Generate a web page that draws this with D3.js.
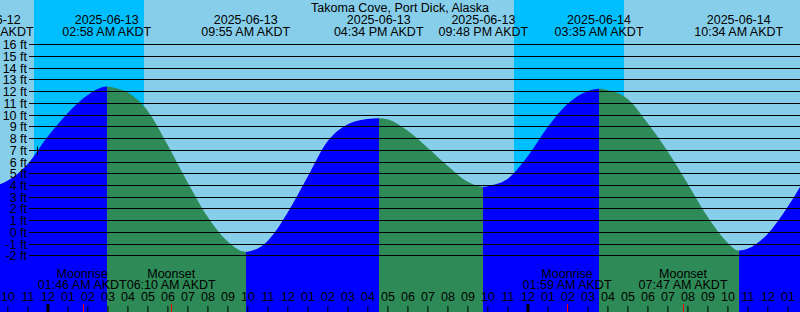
<!DOCTYPE html>
<html><head><meta charset="utf-8">
<script src="https://cdn.jsdelivr.net/npm/d3@7"></script>
<style>
body{margin:0;overflow:hidden;background:#fff}
svg{display:block}
text{font-family:"Liberation Sans",Arial,Helvetica,sans-serif;font-size:12.5px;fill:#000}
</style>
</head><body>
<svg id="c" width="800" height="312"></svg>
<script>
// ---------- data ----------
const title = "Takoma Cove, Port Dick, Alaska";
const tzLabel = "AKDT";
// hourly tide heights (ft), starting 2025-06-12 22:00 AKDT
const sampleStart = "2025-06-12T22:00";
const sampleHeights = [
  4.35, 5.75, 8.1, 10.1, 11.65, 12.39, 11.9, 10.35, 7.45, 4.25,
  1.3, -0.8, -1.69, -0.8, 1.6, 4.65, 7.7, 9.15, 9.62, 9.6,
  8.65, 7.2, 5.65, 4.3, 3.9, 4.5, 6.4, 8.9, 10.9, 12.0,
  12.1, 11.35, 9.3, 6.9, 4.15, 1.3, -0.9, -1.45, -0.2, 2.1, 4.9
];
const extremeTimes = ["2025-06-12T21:04","2025-06-13T02:58","2025-06-13T09:55","2025-06-13T16:34","2025-06-13T21:48","2025-06-14T03:35","2025-06-14T10:34"];
const extremeHeights = [3.8, 12.4, -1.7, 9.7, 3.85, 12.2, -1.6];
const extremeTypes = ["low","high","low","high","low","high","low"];
const sunsetTimes = ["2025-06-12T23:20","2025-06-13T23:20"];
const sunriseTimes = ["2025-06-13T04:50","2025-06-14T04:50"];
const moonEventNames = ["Moonrise","Moonset","Moonrise","Moonset"];
const moonEventTimes = ["2025-06-13T01:46","2025-06-13T06:10","2025-06-14T01:59","2025-06-14T07:47"];
const nowTime = "2025-06-12T23:30";
const levelTicks = [-2,-1,0,1,2,3,4,5,6,7,8,9,10,11,12,13,14,15,16];
const viewStart = "2025-06-12T21:37:48", viewEnd = "2025-06-14T13:37:48";

// ---------- setup ----------
const W = 800, H = 312;
const parse = s => new Date(s + (s.length === 16 ? ":00Z" : "Z"));
const colors = {day:"#87CEEB", night:"#00BFFF", rise:"#0000FF", fall:"#2E8B57"};

const x = d3.scaleUtc().domain([parse(viewStart), parse(viewEnd)]).range([0, W]);
const y = d3.scaleLinear().domain([-2, 16]).range([255.3, 44.3]);

const t0 = parse(sampleStart);
const pts = sampleHeights.map((h,i) => ({t: d3.utcHour.offset(t0, i), h}));
const ext = extremeTimes.map((s,i) => ({t: parse(s), h: extremeHeights[i], type: extremeTypes[i]}));
const data = pts.concat(ext.map(e => ({t:e.t, h:e.h}))).sort((a,b) => a.t - b.t);

const svg = d3.select("#c");
const defs = svg.append("defs");

// sky
svg.append("rect").attr("x",0).attr("y",0).attr("width",W).attr("height",H).attr("fill",colors.day);
sunsetTimes.forEach((s,i) => {
  const a = Math.round(x(parse(s))), b = Math.round(x(parse(sunriseTimes[i])));
  svg.append("rect").attr("x",a).attr("y",0).attr("width",b-a).attr("height",H).attr("fill",colors.night);
});

// tide area, coloured per segment
const area = d3.area().x(d => x(d.t)).y0(H).y1(d => y(d.h)).curve(d3.curveMonotoneX);
const areaPath = area(data);
const lastT = data[data.length-1].t;
ext.forEach((e,i) => {
  const a = Math.round(x(e.t));
  const b = i < ext.length-1 ? Math.round(x(ext[i+1].t)) : Math.ceil(x(lastT)) + 10;
  const id = "seg" + i;
  defs.append("clipPath").attr("id", id).append("rect")
    .attr("x", a).attr("y", 0).attr("width", b - a).attr("height", H);
  svg.append("path").attr("d", areaPath).attr("clip-path", `url(#${id})`)
    .attr("fill", e.type === "low" ? colors.rise : colors.fall);
});

// level lines and labels
const lv = svg.append("g");
levelTicks.forEach(v => {
  const yy = Math.round(y(v)) + 0.5;
  lv.append("line").attr("x1",29).attr("x2",W).attr("y1",yy).attr("y2",yy)
    .attr("stroke","#000").attr("stroke-width",1);
  lv.append("text").attr("x",27).attr("y",yy+4).attr("text-anchor","end").text(v + " ft");
});

// now marker on curve
{
  const nt = parse(nowTime);
  const i = d3.bisector(d => d.t).right(data, nt);
  const p0 = data[i-1], p1 = data[i];
  const f = (nt - p0.t) / (p1.t - p0.t);
  const hh = p0.h + f*(p1.h - p0.h);
  const xx = Math.round(x(nt)) + 0.5;
  svg.append("line").attr("x1",xx).attr("x2",xx).attr("y1",y(hh)-4).attr("y2",y(hh)+4)
    .attr("stroke","#000").attr("stroke-width",1);
}

// title and extreme labels
svg.append("text").attr("x",W/2).attr("y",11.5).attr("text-anchor","middle").text(title);
const fDate = d3.utcFormat("%Y-%m-%d"), fTime = d3.utcFormat("%I:%M %p");
ext.forEach(e => {
  const g = svg.append("g").attr("text-anchor","middle");
  g.append("text").attr("x",x(e.t)).attr("y",24).text(fDate(e.t));
  g.append("text").attr("x",x(e.t)).attr("y",36).text(fTime(e.t) + " " + tzLabel);
});

// hour axis
const axis = d3.axisTop(x).ticks(d3.utcHour.every(1)).tickFormat(d3.utcFormat("%I"))
  .tickSize(6).tickPadding(5);
const ag = svg.append("g").attr("transform",`translate(0,${H})`).call(axis);
ag.attr("font-size",null).attr("font-family",null);
ag.select(".domain").remove();
ag.selectAll(".tick line").attr("stroke","#000");
ag.selectAll(".tick").filter(d => d.getUTCHours() === 0).select("line")
  .attr("stroke-width",3).attr("y2",-8);

// moon events
const moon = moonEventTimes.map((s,i) => ({t: parse(s), name: moonEventNames[i]}));
moon.forEach(m => {
  const xx = Math.round(x(m.t)) + 0.5;
  svg.append("line").attr("x1",xx).attr("x2",xx).attr("y1",H-8).attr("y2",H)
    .attr("stroke","#FF0000").attr("stroke-width",1);
});
const mg = moon.map(m => {
  const g = svg.append("g").attr("text-anchor","middle");
  const a = g.append("text").attr("y",278).text(m.name);
  const b = g.append("text").attr("y",289).text(fTime(m.t) + " " + tzLabel);
  const w = Math.max(a.node().getComputedTextLength(), b.node().getComputedTextLength());
  return {g, a, b, c: x(m.t), w};
});
for (let i = 1; i < mg.length; i++) {
  const p = mg[i-1], q = mg[i];
  const overlap = (p.c + p.w/2) - (q.c - q.w/2);
  if (overlap > 0) { p.c -= overlap/2; q.c += overlap/2; }
}
mg.forEach(m => { m.a.attr("x", m.c); m.b.attr("x", m.c); });
</script>
</body></html>
